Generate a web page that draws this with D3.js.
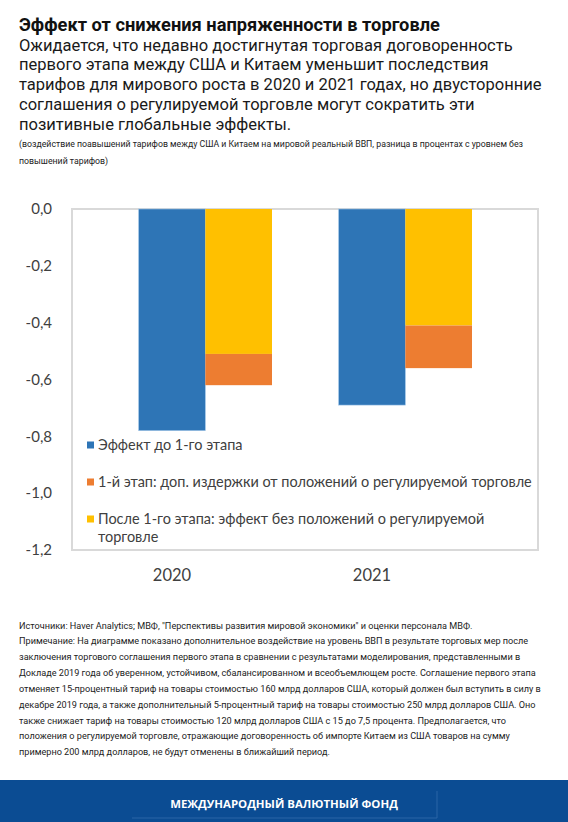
<!DOCTYPE html>
<html>
<head>
<meta charset="utf-8">
<script src="https://cdn.jsdelivr.net/npm/d3@7"></script>
<style>
  body { margin: 0; background: #fff; }
  svg { display: block; }
</style>
</head>
<body>
<svg id="chart" width="568" height="822"></svg>
<script>
// chart values
const years = ['2020', '2021']
const preDeal = [-0.78, -0.69] // blue: before phase one
const postDeal = [-0.51, -0.41] // yellow: after phase one, without managed trade
const managedCost = [-0.11, -0.15] // orange: extra cost of managed trade
const yTicks = [0, -0.2, -0.4, -0.6, -0.8, -1.0, -1.2]

const legendLabels = [
  ['Эффект до 1-го этапа'],
  ['1-й этап: доп. издержки от положений о регулируемой торговле'],
  ['После 1-го этапа: эффект без положений о регулируемой', 'торговле']
]
const titleText = 'Эффект от снижения напряженности в торговле'
const subtitleLines = [
  'Ожидается, что недавно достигнутая торговая договоренность',
  'первого этапа между США и Китаем уменьшит последствия',
  'тарифов для мирового роста в 2020 и 2021 годах, но двусторонние',
  'соглашения о регулируемой торговле могут сократить эти',
  'позитивные глобальные эффекты.'
]
const noteLines = [
  '(воздействие  поавышений тарифов между США и Китаем на мировой реальный ВВП, разница в процентах с уровнем без',
  'повышений тарифов)'
]
const sourceLines = [
  'Источники: Haver Analytics; МВФ,  "Перспективы развития мировой экономики" и оценки персонала МВФ.',
  'Примечание: На диаграмме показано дополнительное воздействие на уровень ВВП в результате торговых мер после',
  'заключения торгового соглашения первого этапа в сравнении с результатами моделирования, представленными в',
  'Докладе 2019 года об уверенном, устойчивом, сбалансированном и всеобъемлющем росте. Соглашение первого этапа',
  'отменяет 15-процентный тариф на товары стоимостью 160 млрд долларов США, который должен был вступить в силу в',
  'декабре 2019 года, а также дополнительный 5-процентный тариф на товары стоимостью 250 млрд долларов США. Оно',
  'также снижает тариф на товары стоимостью 120 млрд долларов США с 15 до 7,5 процента. Предполагается, что',
  'положения о регулируемой торговле, отражающие договоренность об импорте Китаем из США товаров на сумму',
  'примерно 200 млрд долларов, не будут отменены в ближайший период.'
]
const footerText = 'МЕЖДУНАРОДНЫЙ ВАЛЮТНЫЙ ФОНД'

const colors = { pre: '#2e75b6', post: '#ffc000', extra: '#ed7d31' }

const svg = d3.select('#chart')

// scale a block's font size so one reference line gets the width it has in the picture
function fitFont (sel, size, refIndex, width) {
  sel.style('font-size', size + 'px')
  let node = sel.nodes()[refIndex]
  let w = node.getComputedTextLength()
  sel.style('font-size', (size * width / w) + 'px')
}

// header texts
const title = svg.append('text')
  .attr('x', 19).attr('y', 31)
  .style('font-family', 'Roboto').style('font-weight', 'bold')
  .attr('fill', '#111')
  .text(titleText)
fitFont(title, 18, 0, 421)

const subtitle = svg.append('g').selectAll('text')
  .data(subtitleLines)
  .enter().append('text')
  .attr('x', 19)
  .attr('y', function (d, i) { return 50.7 + i * 19.6 + (i === 4 ? 0.8 : 0) })
  .style('font-family', 'Roboto')
  .attr('fill', '#1a1a1a')
  .text(function (d) { return d })
fitFont(subtitle, 16, 2, 523)

const note = svg.append('g').selectAll('text')
  .data(noteLines)
  .enter().append('text')
  .attr('x', 19)
  .attr('y', function (d, i) { return 146.5 + i * 17.8 })
  .style('font-family', 'Roboto')
  .attr('fill', '#222')
  .text(function (d) { return d })
fitFont(note, 9, 0, 505)

// scales
const y = d3.scaleLinear().domain([-1.2, 0]).range([550, 209])
const x = d3.scaleBand().domain(years).range([72, 472])
const xInner = d3.scaleBand().domain(['gap', 'pre', 'post']).range([0, x.bandwidth()])

// chart frame
svg.append('rect')
  .attr('x', 72).attr('y', 209)
  .attr('width', 466).attr('height', 341)
  .attr('fill', 'none').attr('stroke', '#d9d9d9').attr('stroke-width', 2)

// blue bars
const rows = years.map(function (yr, i) {
  return { year: yr, pre: preDeal[i], post: postDeal[i], extra: managedCost[i] }
})

svg.append('g').selectAll('rect')
  .data(rows)
  .enter().append('rect')
  .attr('x', function (d) { return x(d.year) + xInner('pre') })
  .attr('width', xInner.bandwidth())
  .attr('y', y(0))
  .attr('height', function (d) { return y(d.pre) - y(0) })
  .attr('fill', colors.pre)
  .attr('stroke', '#9dc3e6').attr('stroke-width', 0.6)

// stacked yellow + orange
const stacked = d3.stack()
  .keys(['post', 'extra'])
  .offset(d3.stackOffsetDiverging)(rows)

svg.append('g').selectAll('g')
  .data(stacked)
  .enter().append('g')
  .attr('fill', function (s) { return colors[s.key] })
  .selectAll('rect')
  .data(function (s) { return s })
  .enter().append('rect')
  .attr('x', function (d) { return x(d.data.year) + xInner('post') })
  .attr('width', xInner.bandwidth())
  .attr('y', function (d) { return y(d[1]) })
  .attr('height', function (d) { return y(d[0]) - y(d[1]) })

// axes
const ruLocale = d3.formatLocale({ decimal: ',', thousands: ' ', grouping: [3], currency: ['', ''], minus: '-' })
const yAxis = svg.append('g')
  .attr('transform', 'translate(52,0)')
  .call(d3.axisLeft(y).tickValues(yTicks).tickSize(0).tickPadding(0)
    .tickFormat(ruLocale.format('.1f')))
yAxis.select('.domain').remove()
yAxis.selectAll('text')
  .style('font-family', 'Lato').style('font-size', '15px').attr('fill', '#404040')

const xAxis = svg.append('g')
  .attr('transform', 'translate(0,550)')
  .call(d3.axisBottom(x).tickSize(0).tickPadding(19))
xAxis.select('.domain').remove()
xAxis.selectAll('text')
  .style('font-family', 'Lato').style('font-size', '16.5px').attr('fill', '#404040')

// legend
const legendKeys = ['pre', 'extra', 'post']
const legendY = [445, 482, 519]
const legend = svg.append('g').selectAll('g')
  .data(legendKeys)
  .enter().append('g')
  .attr('transform', function (d, i) { return 'translate(87,' + legendY[i] + ')' })

legend.append('rect')
  .attr('x', 0).attr('y', -3.5)
  .attr('width', 7).attr('height', 7)
  .attr('fill', function (d) { return colors[d] })

const legendText = legend.append('text')
  .style('font-family', 'Lato').attr('fill', '#404040')
legendText.selectAll('tspan')
  .data(function (d, i) { return legendLabels[i] })
  .enter().append('tspan')
  .attr('x', 11)
  .attr('y', function (d, j) { return 5 + j * 18 })
  .text(function (d) { return d })
fitFont(legendText, 14, 1, 434)

// sources and note
const sources = svg.append('g').selectAll('text')
  .data(sourceLines)
  .enter().append('text')
  .attr('x', 19)
  .attr('y', function (d, i) { return 628.5 + i * 15.85 })
  .style('font-family', 'Roboto')
  .attr('fill', '#222')
  .text(function (d) { return d })
fitFont(sources, 9.5, 1, 510)

// footer band
svg.append('rect')
  .attr('x', 0).attr('y', 780)
  .attr('width', 568).attr('height', 42)
  .attr('fill', '#0b4c93')
svg.append('path')
  .attr('d', 'M132,818H437V791')
  .attr('fill', 'none').attr('stroke', '#2a64a6').attr('stroke-width', 1)
const footer = svg.append('text')
  .attr('x', 284).attr('y', 808)
  .attr('text-anchor', 'middle')
  .style('font-family', 'Open Sans').style('font-weight', 'bold')
  .attr('fill', '#fff')
  .text(footerText)
fitFont(footer, 11.5, 0, 228)
</script>
</body>
</html>
